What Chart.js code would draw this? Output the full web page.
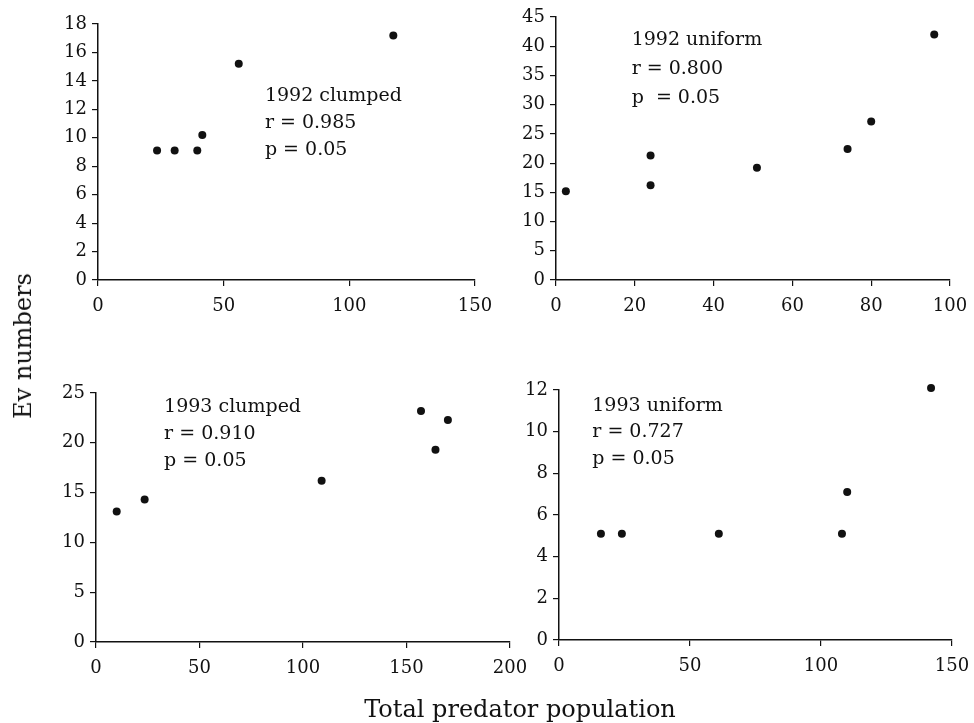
<!DOCTYPE html>
<html><head><meta charset="utf-8">
<script src="https://cdn.jsdelivr.net/npm/chart.js@4.4.0/dist/chart.umd.min.js"></script>
<style>
html,body{margin:0;padding:0;background:#fff;}
#wrap{position:relative;width:974px;height:723px;overflow:hidden;background:#fff;}
canvas{position:absolute;left:0;top:0;}
.t{position:absolute;font-family:"DejaVu Serif",serif;font-size:24px;color:#111;white-space:nowrap;line-height:1;}
#ylab{left:23px;top:346px;transform:translate(-50%,-50%) rotate(-90deg);}
#xlab{left:520px;top:709px;transform:translate(-50%,-50%);}
</style></head><body>
<div id="wrap">
<canvas id="c1" width="1074" height="723"></canvas>
<canvas id="c2" width="1074" height="723"></canvas>
<canvas id="c3" width="1074" height="723"></canvas>
<canvas id="c4" width="1074" height="723"></canvas>
<div class="t" id="ylab">Ev numbers</div>
<div class="t" id="xlab">Total predator population</div>
</div>
<script>
// ---- data ----
const clumped1992X = [23.5, 30.5, 39.5, 41.5, 56, 117.5];
const clumped1992Y = [9.1, 9.1, 9.1, 10.2, 15.2, 17.2];
const uniform1992X = [2.5, 24, 24, 51, 74, 80, 96];
const uniform1992Y = [15.2, 21.3, 16.2, 19.2, 22.4, 27.1, 42];
const clumped1993X = [10, 23.5, 109, 157, 164, 170];
const clumped1993Y = [13.1, 14.3, 16.2, 23.2, 19.3, 22.3];
const uniform1993X = [16, 24, 61, 108, 110, 142];
const uniform1993Y = [5.1, 5.1, 5.1, 5.1, 7.1, 12.1];

const xMaxes = [150, 100, 200, 150];
const xSteps = [50, 20, 50, 50];
const yMaxes = [18, 45, 25, 12];
const ySteps = [2, 5, 5, 2];

const notes1 = ["1992 clumped", "r = 0.985", "p = 0.05"];
const notes2 = ["1992 uniform", "r = 0.800", "p  = 0.05"];
const notes3 = ["1993 clumped", "r = 0.910", "p = 0.05"];
const notes4 = ["1993 uniform", "r = 0.727", "p = 0.05"];
// anchor of each note block in data units (x of left edge, y of first line)
const noteAnchorX = [66.4, 19.2, 32.9, 12.7];
const noteAnchorY = [12.9, 41.1, 23.56, 11.23];

// ---- layout (plot areas in page pixels) ----
const areas = [
  {L: 98, R: 475, T: 24, B: 280, lh: 27},
  {L: 556, R: 950, T: 17, B: 280, lh: 29},
  {L: 96, R: 510, T: 393, B: 642, lh: 27},
  {L: 559, R: 952, T: 390, B: 640, lh: 26.5}
];
const W = 1074, H = 723, YW = 60, XH = 40;
const INK = '#111';
const FONT = '"DejaVu Serif", serif';

const seriesX = [clumped1992X, uniform1992X, clumped1993X, uniform1993X];
const seriesY = [clumped1992Y, uniform1992Y, clumped1993Y, uniform1993Y];
const notes = [notes1, notes2, notes3, notes4];

const notePlugin = {
  id: 'notes',
  afterDraw(chart, args, opts) {
    const ctx = chart.ctx;
    const xs = chart.scales.x, ys = chart.scales.y;
    const x0 = xs.getPixelForValue(opts.ax);
    const y0 = ys.getPixelForValue(opts.ay);
    ctx.save();
    ctx.fillStyle = INK;
    ctx.font = '19px ' + FONT;
    ctx.textBaseline = 'middle';
    ctx.textAlign = 'left';
    opts.lines.forEach((t, i) => ctx.fillText(t, x0, y0 + i * opts.lh));
    ctx.restore();
  }
};

for (let i = 0; i < 4; i++) {
  const a = areas[i];
  const pts = seriesX[i].map((x, k) => ({x: x, y: seriesY[i][k]}));
  const tickFont = {family: FONT, size: 18};
  new Chart(document.getElementById('c' + (i + 1)), {
    type: 'scatter',
    data: {datasets: [{
      data: pts,
      backgroundColor: INK,
      borderColor: INK,
      pointRadius: 4,
      pointHoverRadius: 4,
      borderWidth: 0,
      clip: false
    }]},
    plugins: [notePlugin],
    options: {
      responsive: false,
      animation: false,
      events: [],
      devicePixelRatio: 1,
      layout: {padding: {left: a.L - YW, right: W - a.R, top: a.T, bottom: H - a.B - XH}},
      plugins: {
        legend: {display: false},
        tooltip: {enabled: false},
        notes: {lines: notes[i], ax: noteAnchorX[i], ay: noteAnchorY[i], lh: a.lh}
      },
      scales: {
        x: {
          type: 'linear', min: 0, max: xMaxes[i],
          ticks: {stepSize: xSteps[i], font: tickFont, color: INK, padding: 10, maxRotation: 0, autoSkip: false},
          grid: {drawOnChartArea: false, drawTicks: true, tickLength: 6, color: INK, lineWidth: 1.2},
          border: {display: true, color: INK, width: 1.5},
          afterFit(s) { s.height = XH; }
        },
        y: {
          type: 'linear', min: 0, max: yMaxes[i],
          ticks: {stepSize: ySteps[i], font: tickFont, color: INK, padding: 5, autoSkip: false},
          grid: {drawOnChartArea: false, drawTicks: true, tickLength: 6, color: INK, lineWidth: 1.2},
          border: {display: true, color: INK, width: 1.5},
          afterFit(s) { s.width = YW; }
        }
      }
    }
  });
}
</script>
</body></html>
